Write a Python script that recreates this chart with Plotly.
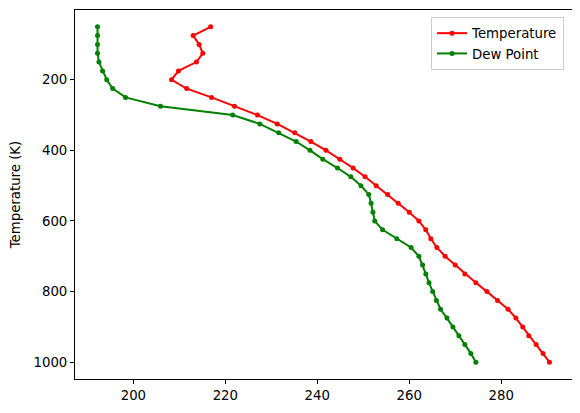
import plotly.graph_objects as go

# pressure levels (hPa), plotted on a reversed y axis
pressure = [50, 75, 100, 125, 150, 175, 200, 225, 250, 275, 300, 325, 350, 375,
            400, 425, 450, 475, 500, 525, 550, 575, 600, 625, 650, 675, 700,
            725, 750, 775, 800, 825, 850, 875, 900, 925, 950, 975, 1000]

temperature = [216.8, 213.0, 214.3, 215.1, 213.7, 209.8, 208.3, 211.6, 217.0,
               222.0, 227.0, 231.3, 235.1, 238.6, 241.9, 244.9, 247.8, 250.4,
               252.8, 255.3, 257.6, 260.0, 262.1, 263.6, 264.7, 266.0, 267.8,
               270.0, 272.1, 274.5, 276.9, 279.2, 281.5, 283.2, 284.7, 286.0,
               287.6, 289.1, 290.5]

dew_point = [192.2, 192.2, 192.2, 192.2, 192.5, 193.3, 194.2, 195.5, 198.3,
             205.9, 221.6, 227.5, 231.6, 235.4, 238.4, 241.2, 244.4, 247.3,
             249.5, 251.2, 251.7, 252.1, 252.5, 254.2, 257.3, 260.4, 262.1,
             262.9, 263.6, 264.3, 265.1, 265.9, 266.8, 268.2, 269.5, 270.8,
             272.1, 273.4, 274.5]

x_ticks = [200, 220, 240, 260, 280]
y_ticks = [200, 400, 600, 800, 1000]

FONT = "DejaVu Sans"
FS = 13.3

fig = go.Figure()
fig.add_trace(go.Scatter(
    x=temperature, y=pressure, name="Temperature", mode="lines+markers",
    line=dict(color="#ff0000", width=2), marker=dict(size=5, color="#ff0000"),
))
fig.add_trace(go.Scatter(
    x=dew_point, y=pressure, name="Dew Point", mode="lines+markers",
    line=dict(color="#008000", width=2), marker=dict(size=5, color="#008000"),
))

axis_style = dict(
    showgrid=False, zeroline=False, showline=True, linecolor="black",
    linewidth=1, mirror=True, ticks="outside", ticklen=4, tickcolor="black",
    tickfont=dict(family=FONT, size=FS, color="black"),
)

fig.update_xaxes(range=[187.3, 295.4], tickvals=x_ticks, **axis_style)
fig.update_yaxes(range=[1047.5, 2.5], tickvals=y_ticks,
                 title=dict(text="Temperature (K)", font=dict(family=FONT, size=FS, color="black"),
                            standoff=12),
                 **axis_style)

# page body adds an 8px offset, so the figure is shrunk by that much
fig.update_layout(
    width=572, height=405,
    margin=dict(l=67, r=8, t=2, b=34, autoexpand=False),
    plot_bgcolor="white", paper_bgcolor="white",
    font=dict(family=FONT, size=FS, color="black"),
    legend=dict(x=0.984, y=0.981, xanchor="right", yanchor="top",
                bordercolor="#cccccc", borderwidth=1, bgcolor="white",
                font=dict(family=FONT, size=FS)),
)

fig.write_html("out.html")
